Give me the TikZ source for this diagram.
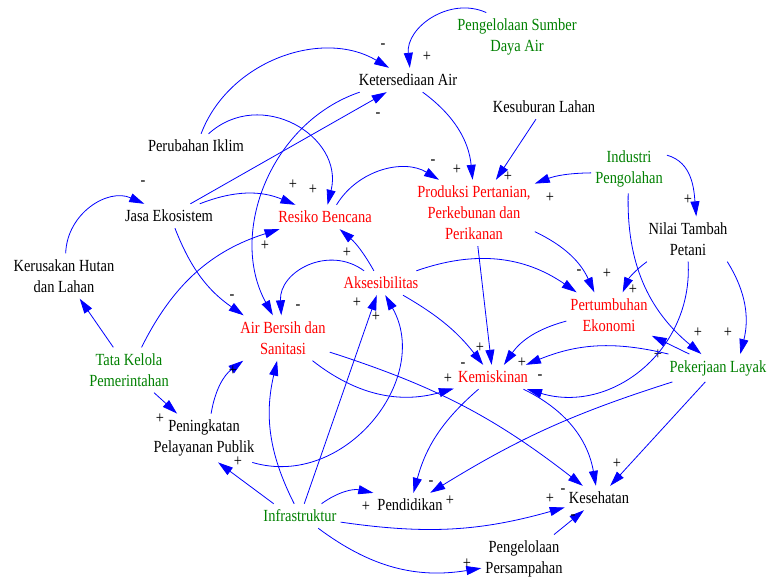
\documentclass[tikz,border=0pt]{standalone}
\usepackage{fontspec}
\setmainfont{Liberation Serif}[FakeStretch=0.85]
\usepackage{tikz}
\usetikzlibrary{arrows.meta}

\definecolor{linkblue}{RGB}{0,0,255}
\definecolor{keyred}{RGB}{255,0,0}
\definecolor{policygreen}{RGB}{0,128,0}

\begin{document}
\begin{tikzpicture}[
  x=1pt,y=1pt,
  >={Triangle[length=15pt,width=9pt]},
  font=\fontsize{17}{21}\selectfont,
  var/.style={align=center, inner xsep=4pt, inner ysep=6pt},
  keyvar/.style={var, text=keyred},
  policy/.style={var, text=policygreen},
  link/.style={->, draw=linkblue, line width=0.8pt},
  sgn/.style={inner sep=0pt}
]
\useasboundingbox (0,0) rectangle (767,582);

% Variables, top to bottom.
\node[var] (ket) at (408,502) {Ketersediaan Air};
\node[policy] (psda) at (517,545) {Pengelolaan Sumber\\Daya Air};
\node[var] (kes) at (544,475) {Kesuburan Lahan};
\node[var] (iklim) at (196,436) {Perubahan Iklim};
\node[var] (jasa) at (169,366) {Jasa Ekosistem};
\node[keyvar] (resiko) at (325,365) {Resiko Bencana};
\node[keyvar] (prod) at (474,369) {Produksi Pertanian,\\Perkebunan dan\\Perikanan};
\node[policy] (ind) at (629,413) {Industri\\Pengolahan};
\node[var] (nilai) at (688,343) {Nilai Tambah\\Petani};
\node[var] (hutan) at (64,306) {Kerusakan Hutan\\dan Lahan};
\node[keyvar] (akses) at (381,299) {Aksesibilitas};
\node[keyvar] (ekon) at (609,267) {Pertumbuhan\\Ekonomi};
\node[keyvar] (air) at (283,244) {Air Bersih dan\\Sanitasi};
\node[policy] (tata) at (129,212) {Tata Kelola\\Pemerintahan};
\node[keyvar] (miskin) at (493,205) {Kemiskinan};
\node[policy] (kerja) at (718,214) {Pekerjaan Layak};
\node[var] (publik) at (204,144) {Peningkatan\\Pelayanan Publik};
\node[var] (didik) at (410,77) {Pendidikan};
\node[var] (sehat) at (599,84) {Kesehatan};
\node[policy] (infra) at (300,66) {Infrastruktur};
\node[var] (sampah) at (524,23) {Pengelolaan\\Persampahan};

% Water, climate and disaster risk.
\draw[link] (iklim) to[bend left=50] (ket) node[sgn] at (383,536) {-};
\draw[link] (psda) to[bend right=60, looseness=1.1] (ket) node[sgn] at (427,525) {+};
\draw[link] (jasa) -- (ket) node[sgn] at (378,467) {-};
\draw[link] (iklim) to[bend left=73, looseness=1.3] (resiko) node[sgn] at (313,392) {+};
\draw[link] (jasa) to[bend left=22] (resiko) node[sgn] at (293,397) {+};
\draw[link] (tata) to[bend left=23] (resiko) node[sgn] at (265,336) {+};
\draw[link] (akses) to[bend right=10] (resiko) node[sgn] at (347,329) {+};
\draw[link] (hutan) to[bend left=56, looseness=1.1] (jasa) node[sgn] at (143,399) {-};
\draw[link] (ket) to[bend right=50] (air);

% Production and added value.
\draw[link] (resiko) to[bend left=45] (prod) node[sgn] at (433,420) {-};
\draw[link] (ket) to[bend left=24] (prod) node[sgn] at (457,412) {+};
\draw[link] (kes) -- (prod) node[sgn] at (508,405) {+};
\draw[link] (ind) to[bend right=10] (prod) node[sgn] at (550,384) {+};
\draw[link] (ind.20) to[out=-15,in=95] (nilai.70) node[sgn] at (688,382) {+};

% Growth and decent work.
\draw[link] (prod) to[bend left=20] (ekon) node[sgn] at (607,308) {+};
\draw[link] (nilai) to[bend right=15] (ekon) node[sgn] at (633,292) {+};
\draw[link] (akses) to[bend left=27] (ekon) node[sgn] at (579,310) {-};
\draw[link] (kerja) -- (ekon) node[sgn] at (658,227) {+};
\draw[link] (ind) to[bend right=26] (kerja) node[sgn] at (698,249) {+};
\draw[link] (nilai.-30) to[out=-58,in=76] (kerja.32) node[sgn] at (728,249) {+};

% Poverty.
\draw[link] (prod) -- (miskin) node[sgn] at (480,234) {+};
\draw[link] (akses) to[bend left=11] (miskin) node[sgn] at (463,217) {-};
\draw[link] (ekon) to[bend right=20] (miskin) node[sgn] at (522,219) {+};
\draw[link] (kerja) to[bend right=18] (miskin);
\draw[link] (nilai) to[bend left=55, looseness=1.1] (miskin) node[sgn] at (540,205) {-};
\draw[link] (air) to[bend right=27] (miskin) node[sgn] at (448,203) {+};

% Health and education.
\draw[link] (air) to[bend left=10] (sehat);
\draw[link] (miskin) to[bend left=27] (sehat) node[sgn] at (563,91) {-};
\draw[link] (miskin) to[bend right=17] (didik) node[sgn] at (431,99) {-};
\draw[link] (kerja) to[bend right=7] (didik) node[sgn] at (450,81) {+};
\draw[link] (kerja) -- (sehat) node[sgn] at (617,118) {+};
\draw[link] (sampah) -- (sehat) node[sgn] at (573,65) {-};

% Access and clean water.
\draw[link] (akses) to[bend right=65, looseness=1.2] (air) node[sgn] at (298,275) {-};
\draw[link] (jasa) to[bend right=17] (air) node[sgn] at (232,285) {-};
\draw[link] (publik) to[bend left=22] (air) node[sgn] at (233,211) {+};

% Governance and infrastructure.
\draw[link] (tata) -- (hutan);
\draw[link] (tata) -- (publik) node[sgn] at (160,163) {+};
\draw[link] (infra) -- (akses) node[sgn] at (357,279) {+};
\draw[link] (publik) to[bend right=68, looseness=1.15] (akses) node[sgn] at (376,265) {+};
\draw[link] (infra.155) -- (publik.-60) node[sgn] at (238,120) {+};
\draw[link] (infra) to[bend left=20] (air);
\draw[link] (infra) to[bend left=24] (didik) node[sgn] at (366,75) {+};
\draw[link] (infra) to[bend right=12] (sehat) node[sgn] at (550,83) {+};
\draw[link] (infra) to[bend right=23] (sampah) node[sgn] at (467,18) {+};
\end{tikzpicture}
\end{document}
